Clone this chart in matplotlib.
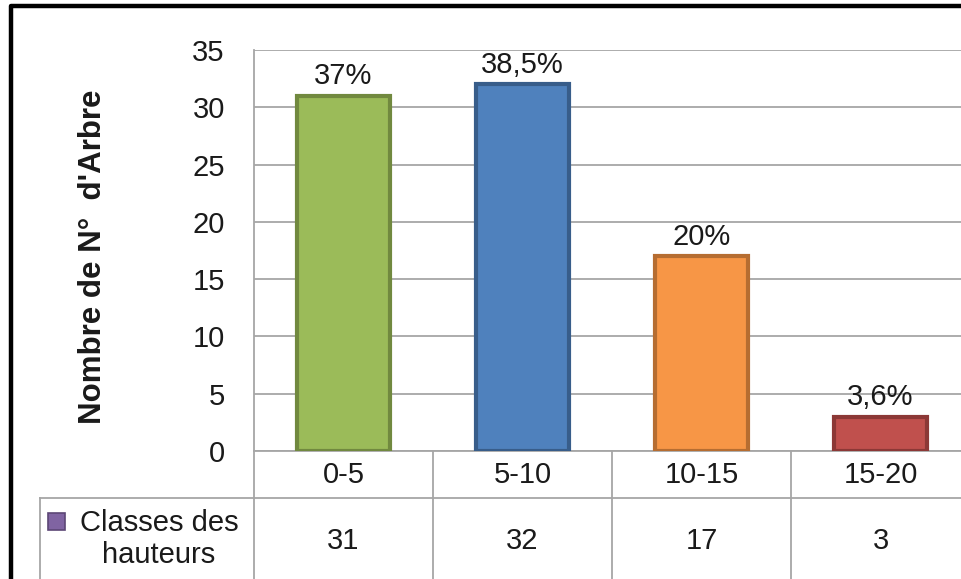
import matplotlib.pyplot as plt
import matplotlib.transforms as mtransforms
from matplotlib.patches import Rectangle

plt.rcParams['font.family'] = ['Liberation Sans', 'DejaVu Sans']

# data
classes = ['0-5', '5-10', '10-15', '15-20']
counts = [31, 32, 17, 3]
pct_labels = ['37%', '38,5%', '20%', '3,6%']
face_colors = ['#9bbb59', '#4f81bd', '#f79646', '#c0504d']
edge_colors = ['#71893f', '#385d8a', '#b66d31', '#8c3836']
series_name = 'Classes des\nhauteurs'
yticks = [0, 5, 10, 15, 20, 25, 30, 35]

W, H = 961, 579
fig = plt.figure(figsize=(W / 100, H / 100), dpi=100)
FS = 21
txt_c = '#1a1a1a'


def fx(px):
    return px / W


def fy(py):
    return 1 - py / H


# plot area (runs off the right side, like the original export)
ax_left, ax_right, ax_top, ax_bottom = 254, 970, 50, 451
ax = fig.add_axes([fx(ax_left), fy(ax_bottom), fx(ax_right - ax_left),
                   fy(ax_top) - fy(ax_bottom)])
grid_c = '#a6a6a6'

x = list(range(len(classes)))
ax.bar(x, counts, width=0.52, color=face_colors, edgecolor=edge_colors,
       linewidth=3, zorder=3)
for xi, v, lab in zip(x, counts, pct_labels):
    ax.annotate(lab, (xi, v), xytext=(0, 4), textcoords='offset points',
                ha='center', va='bottom', fontsize=FS, color=txt_c, zorder=4)

ax.set_xlim(-0.5, len(classes) - 0.5)
ax.set_ylim(0, 35)
ax.set_yticks(yticks)
ax.set_xticks([])
ax.tick_params(axis='y', length=0, pad=21, labelsize=FS, labelcolor=txt_c)
ax.yaxis.grid(True, color=grid_c, linewidth=1.3, zorder=0)
ax.set_axisbelow(True)
for s in ['top', 'right', 'bottom']:
    ax.spines[s].set_visible(False)
ax.spines['left'].set_color(grid_c)
ax.spines['left'].set_linewidth(1.3)
ax.set_ylabel("Nombre de N°  d'Arbre", fontsize=22.5, fontweight='bold',
              labelpad=0, color=txt_c)
ax.yaxis.set_label_coords((108 - ax_left) / (ax_right - ax_left), 0.485)

# data table under the chart
tr = mtransforms.blended_transform_factory(ax.transData, fig.transFigure)
row1_top, row2_top, row_end = fy(451), fy(498), fy(600)
ax.plot([-0.5, len(classes)], [row1_top, row1_top], transform=tr,
        color=grid_c, lw=1.3, clip_on=False)
fig.add_artist(plt.Line2D([fx(40), 1], [row2_top, row2_top], color=grid_c, lw=1.3))
fig.add_artist(plt.Line2D([fx(40), fx(40)], [row2_top, row_end], color=grid_c, lw=1.3))
for b in [i - 0.5 for i in range(len(classes))]:
    ax.plot([b, b], [row1_top, row_end], transform=tr, color=grid_c, lw=1.3,
            clip_on=False)
for xi, c, v in zip(x, classes, counts):
    ax.text(xi, fy(475), c, transform=tr, ha='center', va='center',
            fontsize=FS, color=txt_c)
    ax.text(xi, fy(541), str(v), transform=tr, ha='center', va='center',
            fontsize=FS, color=txt_c)

# legend key of the series row
fig.add_artist(Rectangle((fx(48), fy(530)), fx(17), fy(513) - fy(530),
                         transform=fig.transFigure, facecolor='#8064a2',
                         edgecolor='#5c4776', lw=1.2))
fig.text(fx(159), fy(539), series_name, ha='center', va='center',
         fontsize=FS, color=txt_c, linespacing=1.2)

# outer chart frame
fig.add_artist(plt.Line2D([fx(11), fx(11), 1], [0, fy(6), fy(6)],
                          color='black', lw=3.2))

fig.savefig('out.png', dpi=100)
